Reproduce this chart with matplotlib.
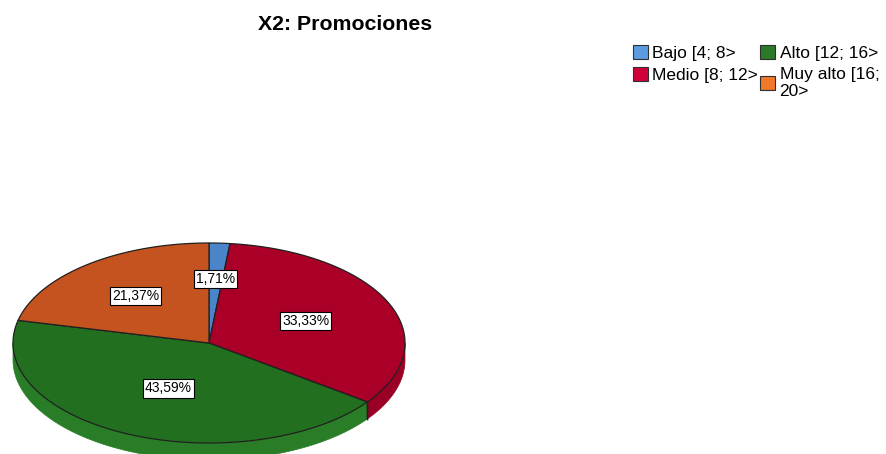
import numpy as np
import matplotlib
matplotlib.use("Agg")
from matplotlib import pyplot as plt
from matplotlib.patches import Polygon, Patch

plt.rcParams['font.family'] = ['Liberation Sans', 'DejaVu Sans']

# data (percent of respondents)
categories = ["Bajo [4; 8>", "Medio [8; 12>", "Alto [12; 16>", "Muy alto [16;\n20>"]
percents = [1.71, 33.33, 43.59, 21.37]
pct_labels = ["1,71%", "33,33%", "43,59%", "21,37%"]

# colours: legend swatch, top face, side wall
legend_colors = ["#5b9be0", "#d0003a", "#2a7a2a", "#f07a2a"]
top_colors = ["#4a85c9", "#aa0028", "#22701f", "#c4531f"]
side_colors = ["#3f74b0", "#9a0025", "#2a7d27", "#b04a1c"]

fig = plt.figure(figsize=(8.87, 4.54), dpi=100)
ax = fig.add_axes([0, 0, 1, 1])
ax.set_xlim(0, 887)
ax.set_ylim(454, 0)
ax.axis("off")

# ellipse geometry of the tilted pie (pixels)
cx, cy, a, b, depth = 209, 343, 196, 100, 17

def edge(t):
    return cx + a*np.sin(t), cy - b*np.cos(t)

fracs = np.array(percents) / sum(percents)
bounds = np.concatenate([[0], np.cumsum(fracs)]) * 2*np.pi

# side walls (only the front half is visible)
for i in range(len(fracs)):
    t0, t1 = max(bounds[i], np.pi/2), min(bounds[i+1], 3*np.pi/2)
    if t1 <= t0:
        continue
    t = np.linspace(t0, t1, 100)
    x, y = edge(t)
    pts = np.column_stack([np.r_[x, x[::-1]], np.r_[y, y[::-1] + depth]])
    ax.add_patch(Polygon(pts, closed=True, facecolor=side_colors[i],
                         edgecolor=side_colors[i], linewidth=0.5, zorder=1))
    for tb in (t0, t1):
        if np.pi/2 < tb < 3*np.pi/2:
            xb, yb = edge(tb)
            ax.plot([xb, xb], [yb, yb + depth], color="#202020", lw=1, zorder=2)

# top faces
for i in range(len(fracs)):
    t = np.linspace(bounds[i], bounds[i+1], 200)
    x, y = edge(t)
    pts = np.column_stack([np.r_[cx, x], np.r_[cy, y]])
    ax.add_patch(Polygon(pts, closed=True, facecolor=top_colors[i],
                         edgecolor="#202020", linewidth=0.9, zorder=3))

# percentage labels
label_r = [0.64, 0.54, 0.5, 0.6]
for i in range(len(fracs)):
    tm = (bounds[i] + bounds[i+1]) / 2
    lx = cx + label_r[i]*a*np.sin(tm)
    ly = cy - label_r[i]*b*np.cos(tm)
    ax.text(lx, ly, pct_labels[i], ha="center", va="center", fontsize=10, zorder=5,
            bbox=dict(boxstyle="square,pad=0.15", facecolor="white",
                      edgecolor="black", linewidth=0.8))

fig.text(345/887, 1 - 25/454, "X2: Promociones", ha="center", va="center",
         fontsize=15.3, fontweight="bold")

handles = [Patch(facecolor=c, edgecolor="#303030", linewidth=0.8) for c in legend_colors]
ax.legend(handles, categories, ncol=2, loc="upper left",
          bbox_to_anchor=(633/887, 1 - 45/454), frameon=False, fontsize=12.5,
          handlelength=0.85, handleheight=0.85, handletextpad=0.25,
          columnspacing=0.15, labelspacing=0.35, borderaxespad=0, borderpad=0)

fig.savefig("out.png", dpi=100)
